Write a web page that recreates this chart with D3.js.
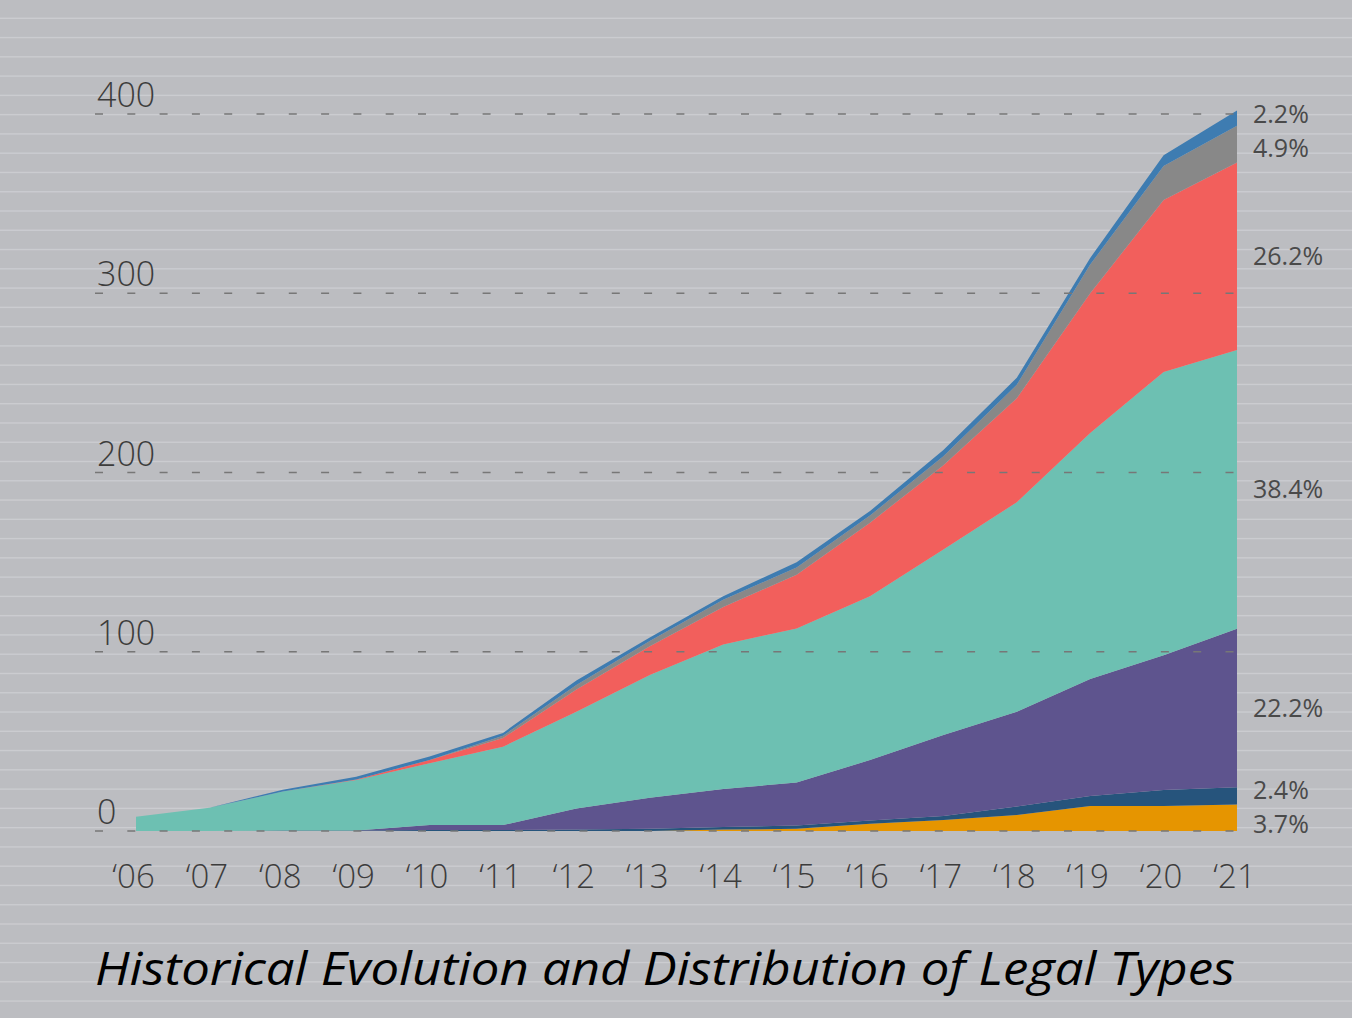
<!DOCTYPE html>
<html>
<head>
<meta charset="utf-8">
<script src="https://cdn.jsdelivr.net/npm/d3@7"></script>
<style>
  html, body { margin: 0; padding: 0; background: #bcbdc1; }
  svg { display: block; }
</style>
</head>
<body>
<svg id="chart" width="1352" height="1018"></svg>
<script>
// ---- data ----
const years = ["‘06","‘07","‘08","‘09","‘10","‘11","‘12","‘13","‘14","‘15","‘16","‘17","‘18","‘19","‘20","‘21"];
const seriesKeys = ["orange","navy","purple","teal","red","gray","blue"];
const orange = [0,0,0,0,0,0,0,0,0.8,1.2,4,6.1,8.9,14,14,14.8];
const navy   = [0,0,0.3,0.3,0.5,0.5,0.8,1.2,1.4,1.8,1.8,2.3,4.7,5.5,8.9,9.6];
const purple = [0,0,0,0,2.8,2.8,11.7,17.3,21.3,24,33.8,45.1,52.9,65.3,75.1,88.5];
const teal   = [8,13,21.7,28.2,34.5,43.7,54,68.5,80.5,86,91.4,103.5,116.9,137.2,158,155.5];
const red    = [0,0,0,0.3,1.8,4.9,12.5,16,21,30,41,47,58,78,96,104.5];
const gray   = [0,0,0,0,0,1.2,2.5,3,4,4,4,5,7.5,16,19,20.5];
const blue   = [0,0,1,1.5,2,1.6,2.5,2,2,3,2.5,3.5,4,3.7,6,8.6];
const colors = ["#e69500","#26547c","#5e548e","#6dc0b2","#f25f5c","#888888","#3e7cb1"];
const shareLabels = ["3.7%","2.4%","22.2%","38.4%","26.2%","4.9%","2.2%"];
const yTicks = [0,100,200,300,400];
const title = "Historical Evolution and Distribution of Legal Types";

const table = years.map((yr, i) => ({
  year: yr, orange: orange[i], navy: navy[i], purple: purple[i], teal: teal[i],
  red: red[i], gray: gray[i], blue: blue[i]
}));

// ---- layout ----
const svg = d3.select("#chart");
const W = 1352, H = 1018;
const FONT = "'Open Sans', sans-serif";
const x = d3.scalePoint().domain(years).range([136, 1237]);
const y = d3.scaleLinear().domain([0, 400]).range([831, 114]);

// background
svg.append("rect").attr("width", W).attr("height", H).attr("fill", "#bcbdc1");
// decorative stripes
const stripeG = svg.append("g");
for (let k = 0; 18.3 + k * 19.27 < H; k++) {
  stripeG.append("rect")
    .attr("x", 0).attr("width", W)
    .attr("y", 18.3 + k * 19.27 - 0.7).attr("height", 1.4)
    .attr("fill", "#cbccd0");
}

// stacked areas
const stack = d3.stack().keys(seriesKeys);
const layers = stack(table);
const area = d3.area()
  .x(d => x(d.data.year))
  .y0(d => y(d[0]))
  .y1(d => y(d[1]));
svg.append("g").selectAll("path").data(layers).join("path")
  .attr("d", area)
  .attr("fill", (d, i) => colors[i]);

// dashed grid lines (on top)
svg.append("g").selectAll("line").data(yTicks).join("line")
  .attr("x1", 95).attr("x2", 1237)
  .attr("y1", d => y(d)).attr("y2", d => y(d))
  .attr("stroke", "#777")
  .attr("stroke-width", 1.6)
  .attr("stroke-dasharray", "8 24.3");

// y tick labels
svg.append("g").selectAll("text").data(yTicks).join("text")
  .attr("x", 97).attr("y", d => y(d) - 7)
  .attr("font-family", FONT)
  .attr("font-weight", 300)
  .attr("font-size", 34)
  .attr("fill", "#3c3c3c")
  .text(d => d);

// x axis labels
const xAxis = d3.axisBottom(x).tickSize(0).tickPadding(0);
const xg = svg.append("g").attr("transform", "translate(-3,888)").call(xAxis);
xg.select(".domain").remove();
xg.selectAll("text")
  .attr("y", 0).attr("dy", 0)
  .attr("font-family", FONT)
  .attr("font-weight", 300)
  .attr("font-size", 33)
  .attr("fill", "#3c3c3c")
  .attr("text-anchor", "middle");

// share labels at the end
const last = table.length - 1;
let lab = layers.map((L, i) => ({ i, yy: y((L[last][0] + L[last][1]) / 2) }));
lab.sort((a, b) => a.yy - b.yy);
const minGap = 34;
for (let it = 0; it < 80; it++) {
  for (let j = 1; j < lab.length; j++) {
    const gap = lab[j].yy - lab[j - 1].yy;
    if (gap < minGap) {
      const push = (minGap - gap) / 2;
      lab[j].yy += push; lab[j - 1].yy -= push;
    }
  }
}
svg.append("g").selectAll("text").data(lab).join("text")
  .attr("x", 1253).attr("y", d => d.yy)
  .attr("dy", "0.36em")
  .attr("font-family", FONT)
  .attr("font-size", 25)
  .attr("fill", "#4a4a4a")
  .text(d => shareLabels[d.i]);

// title
const t = svg.append("text")
  .attr("x", 95).attr("y", 985)
  .attr("font-family", FONT)
  .attr("font-style", "italic")
  .attr("font-size", 45)
  .attr("fill", "#000")
  .text(title);
const tl = t.node().getComputedTextLength();
if (Math.abs(tl - 1140) > 10) {
  t.attr("textLength", 1140).attr("lengthAdjust", "spacingAndGlyphs");
}
</script>
</body>
</html>
